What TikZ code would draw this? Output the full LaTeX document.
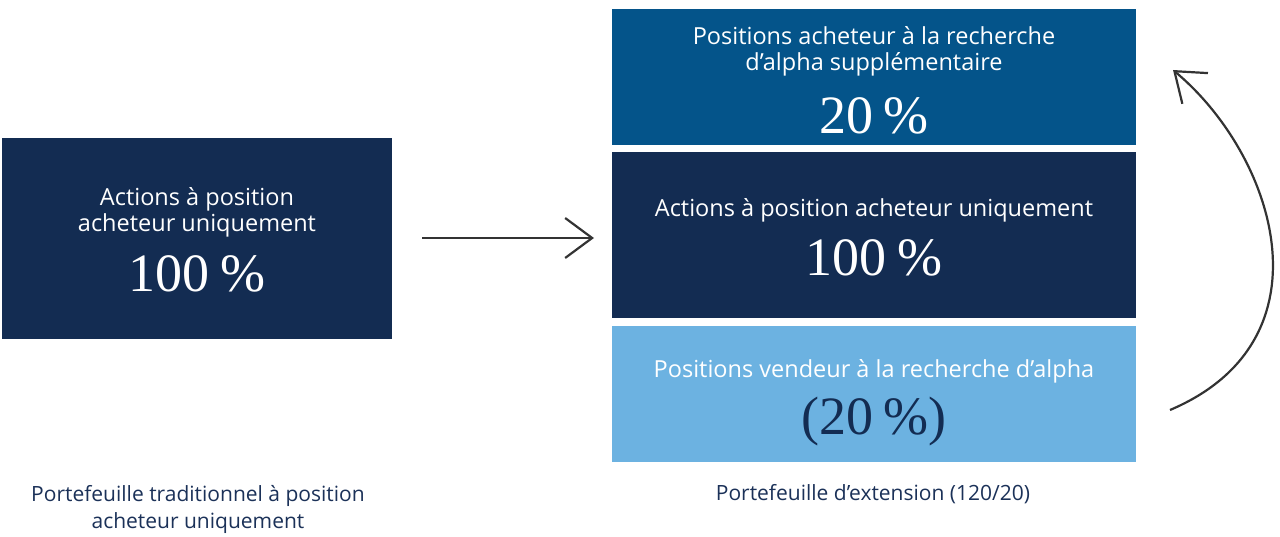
\documentclass[tikz,border=0pt]{standalone}
\usepackage{fontspec}
\newfontfamily\labelfont{Open Sans}
\newfontfamily\figfont{Liberation Serif}
\usetikzlibrary{arrows.meta}
\definecolor{navy}{HTML}{132C52}
\definecolor{midblue}{HTML}{04548A}
\definecolor{lightblue}{HTML}{6CB2E1}
\definecolor{captionblue}{HTML}{1B3158}
\definecolor{arrowgrey}{HTML}{333333}
\tikzset{
  block/.style={rectangle, inner sep=0pt, text=white, align=center,
    font=\labelfont\fontsize{23.5}{26}\selectfont},
  caption/.style={text=captionblue, align=center,
    font=\labelfont\fontsize{21}{27}\selectfont},
  flow/.style={draw=arrowgrey, line width=2.2pt,
    -{Straight Barb[length=27pt,width=40pt,line width=2.2pt]}}
}
\newcommand{\pct}[1]{{\figfont\fontsize{54}{54}\selectfont #1}}
\newcommand{\gap}{\hspace{0.2em}}
\newcommand{\lift}[1]{\rule{0pt}{#1}}
\begin{document}
\begin{tikzpicture}[x=1pt,y=-1pt]
\useasboundingbox (0,0) rectangle (1280,537);
% boxes
\node [block, fill=navy, minimum width=390pt, minimum height=201pt] (long) at (197,238.5)
  {\lift{21pt}Actions à position\\acheteur uniquement\\[18pt]\pct{100\gap\%}};
\node [block, fill=midblue, minimum width=524pt, minimum height=136pt] (plus) at (874,77)
  {\lift{25pt}Positions acheteur à la recherche\\d’alpha supplémentaire\\[21pt]\pct{20\gap\%}};
\node [block, fill=navy, minimum width=524pt, minimum height=166pt] (core) at (874,235)
  {\lift{23pt}Actions à position acheteur uniquement\\[17pt]\pct{100\gap\%}};
\node [block, fill=lightblue, minimum width=524pt, minimum height=136pt] (minus) at (874,394)
  {\lift{35pt}Positions vendeur à la recherche d’alpha\\[13pt]{\color{navy}\pct{(20\gap\%)}}};

% captions
\node [caption] (capa) at (198,509) {Portefeuille traditionnel à position\\acheteur uniquement};
\node [caption] (capb) at (873,494) {Portefeuille d’extension (120/20)};

% arrows
\coordinate (from) at (422,238);
\coordinate (to) at (594,238);
\draw [flow] (from) -- (to);
\coordinate (low) at (1170,410);
\coordinate (high) at (1173,70);
\draw [flow] (low) .. controls (1335,340) and (1275,155) .. (high);

\end{tikzpicture}
\end{document}
